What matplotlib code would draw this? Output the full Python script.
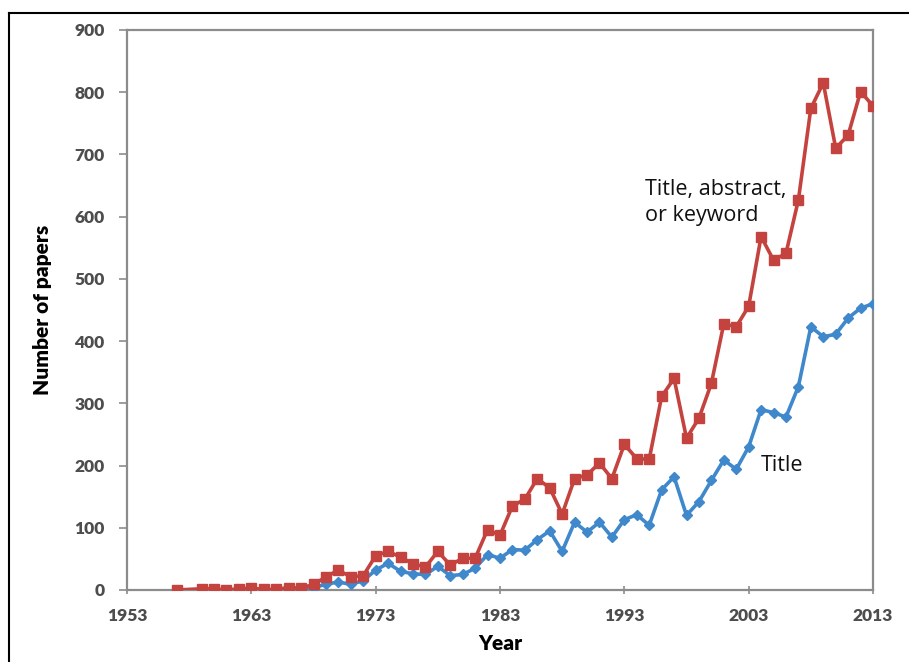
import matplotlib
matplotlib.use('Agg')
import matplotlib.pyplot as plt
from matplotlib.lines import Line2D

# years for the broader search (1958 has no point)
years = [1957, 1959, 1960, 1961, 1962, 1963, 1964, 1965, 1966, 1967, 1968,
         1969, 1970, 1971, 1972, 1973, 1974, 1975, 1976, 1977, 1978, 1979,
         1980, 1981, 1982, 1983, 1984, 1985, 1986, 1987, 1988, 1989, 1990,
         1991, 1992, 1993, 1994, 1995, 1996, 1997, 1998, 1999, 2000, 2001,
         2002, 2003, 2004, 2005, 2006, 2007, 2008, 2009, 2010, 2011, 2012,
         2013]

# title, abstract or keyword
tak = [0, 2, 2, 0, 2, 3, 1, 1, 4, 3, 9,
       21, 32, 21, 23, 55, 62, 53, 42, 37, 62, 40,
       51, 51, 97, 88, 135, 146, 179, 164, 122, 179, 185,
       204, 179, 234, 211, 210, 311, 340, 244, 276, 332, 428,
       423, 456, 568, 530, 541, 627, 774, 815, 710, 731, 801,
       778]

# title only
title = [0, 0, 0, 0, 0, 1, 0, 0, 1, 1, 4,
         9, 13, 9, 15, 32, 43, 30, 26, 25, 38, 23,
         25, 35, 57, 51, 65, 64, 81, 95, 62, 109, 93,
         109, 85, 113, 121, 104, 161, 182, 120, 142, 176, 209,
         194, 230, 290, 285, 278, 327, 423, 407, 411, 437, 453,
         460]

xticks = [1953, 1963, 1973, 1983, 1993, 2003, 2013]
yticks = [0, 100, 200, 300, 400, 500, 600, 700, 800, 900]

red = '#C4433F'
blue = '#3F88CC'
spine = '#8C8C8C'

fig = plt.figure(figsize=(9.09, 6.62), dpi=100)
ax = fig.add_axes([127 / 909, 1 - 590 / 662, 746 / 909, 560 / 662])

ax.plot(years, title, color=blue, lw=2.6, marker='D', ms=4.8, mec=blue, zorder=3)
ax.plot(years, tak, color=red, lw=2.6, marker='s', ms=7.5, mec=red, zorder=4)

ax.set_xlim(1953, 2013)
ax.set_ylim(0, 900)
ax.set_xticks(xticks)
ax.set_yticks(yticks)

for s in ax.spines.values():
    s.set_color(spine)
    s.set_linewidth(1.6)

ax.tick_params(axis='y', direction='out', length=6, width=1.2, color=spine, pad=10)
ax.tick_params(axis='x', direction='inout', length=6, width=1.2, color=spine, pad=10)
for lab in ax.get_xticklabels() + ax.get_yticklabels():
    lab.set_family('Lato')
    lab.set_fontweight('heavy')
    lab.set_fontsize(12.5)
    lab.set_color('#4D4D4D')

ax.set_xlabel('Year', family='Lato', fontweight='heavy', fontsize=15, labelpad=7)
ax.set_ylabel('Number of papers', family='Lato', fontweight='heavy', fontsize=15, labelpad=16)

ax.text(1994.7, 623, 'Title, abstract,\nor keyword', family='Open Sans', fontsize=15.5,
        color='#111111', ha='left', va='center', linespacing=1.35)
ax.text(2004.0, 200, 'Title', family='Open Sans', fontsize=15.5,
        color='#111111', ha='left', va='center')

# outer frame (only the top and left edges show in the crop)
fig.add_artist(Line2D([9 / 909, 1.0], [1 - 13 / 662, 1 - 13 / 662], color='black', lw=1.5))
fig.add_artist(Line2D([9 / 909, 9 / 909], [0.0, 1 - 13 / 662], color='black', lw=1.5))

fig.savefig('out.png', dpi=100)
